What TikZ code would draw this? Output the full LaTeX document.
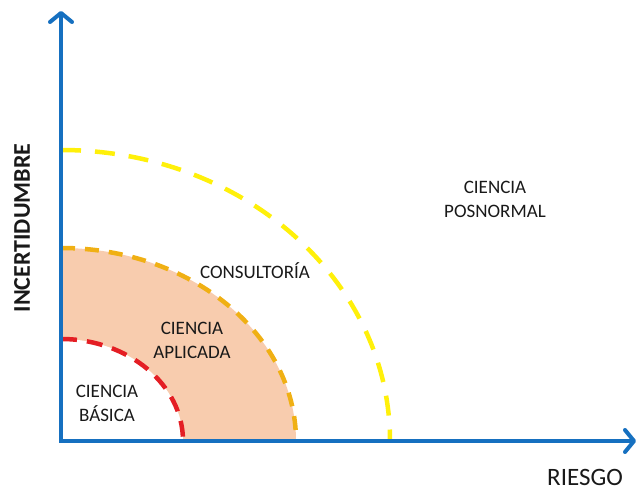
\documentclass[tikz,border=0pt]{standalone}
\usepackage{fontspec}
\setmainfont{Carlito}
\usetikzlibrary{arrows.meta}

\definecolor{axisblue}{RGB}{22,112,192}
\definecolor{basicred}{RGB}{228,30,36}
\definecolor{appliedorange}{RGB}{240,176,20}
\definecolor{consultyellow}{RGB}{255,240,10}
\definecolor{appliedfill}{RGB}{248,204,174}

\def\basicRx{122}
\def\basicRy{102}
\def\appliedRx{235}
\def\appliedRy{193}

\begin{document}
\begin{tikzpicture}[x=1pt, y=1pt,
        axisline/.style={line width=4pt, axisblue,
            {Straight Barb[length=9pt,width=22pt,round]}-{Straight Barb[length=9pt,width=22pt,round]}},
        zonelabel/.style={align=center, text=black!90, font=\fontsize{19}{24}\selectfont},
        axislabel/.style={text=black!90, font=\fontsize{25}{28}\selectfont}]
            \useasboundingbox (0,0) rectangle (638,494);
            \coordinate (origin) at (61,53);
            \coordinate (ytip) at (61,483);
            \coordinate (xtip) at (636,53);
            \fill [appliedfill]
            (origin) -- ++(0,\appliedRy)
            arc [start angle=90, end angle=0, x radius=\appliedRx, y radius=\appliedRy]
            -- cycle
            ;
            \fill [white]
            (origin) -- ++(0,\basicRy)
            arc [start angle=90, end angle=0, x radius=\basicRx, y radius=\basicRy]
            -- cycle
            ;
            \foreach \rx/\ry/\col/\lenOn/\lenOff in {\basicRx/\basicRy/basicred/16/10,
                \appliedRx/\appliedRy/appliedorange/14/10, 329/291/consultyellow/20/14} {
                \draw [line width=4.5pt, \col, dash pattern=on \lenOn pt off \lenOff pt]
                (origin) ++(0,\ry)
                arc [start angle=90, end angle=0, x radius=\rx, y radius=\ry]
                ;
            }
            \draw [axisline] (ytip) -- (origin) -- (xtip);
            \node [zonelabel] (basica) at (107,91) {CIENCIA\\BÁSICA};
            \node [zonelabel] (aplicada) at (192,154) {CIENCIA\\APLICADA};
            \node [zonelabel] (consultoria) at (255,223) {CONSULTORÍA};
            \node [zonelabel] (posnormal) at (495,295) {CIENCIA\\POSNORMAL};
            \node [axislabel] (riesgo) at (585,17) {RIESGO};
            \node [axislabel, font=\fontsize{24}{28}\selectfont\bfseries, rotate=90] (incert) at (22,266) {INCERTIDUMBRE};
        \end{tikzpicture}
\end{document}
